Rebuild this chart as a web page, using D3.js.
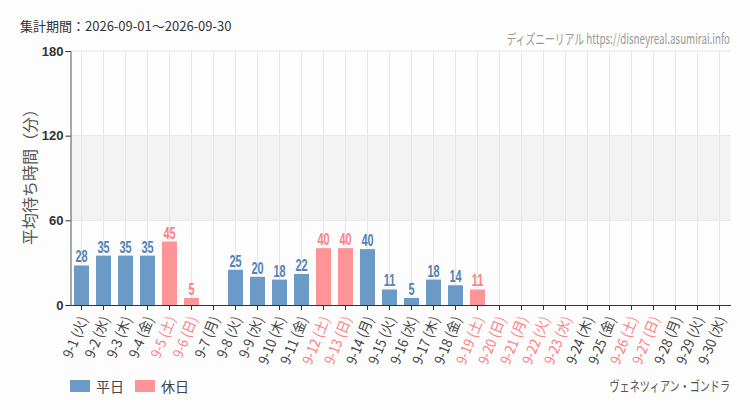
<!DOCTYPE html>
<html><head><meta charset="utf-8">
<script src="https://cdn.jsdelivr.net/npm/d3@7"></script>
<style>
html,body{margin:0;padding:0;background:#fcfdfc;}
svg{display:block;font-family:"Noto Sans CJK JP","Noto Sans",sans-serif;}
</style></head>
<body><svg id="c" width="750" height="410"></svg>
<script>
const dates = ["9-1","9-2","9-3","9-4","9-5","9-6","9-7","9-8","9-9","9-10","9-11","9-12","9-13","9-14","9-15","9-16","9-17","9-18","9-19","9-20","9-21","9-22","9-23","9-24","9-25","9-26","9-27","9-28","9-29","9-30"];
const weekdays = ["火","水","木","金","土","日","月","火","水","木","金","土","日","月","火","水","木","金","土","日","月","火","水","木","金","土","日","月","火","水"];
const holiday = [0,0,0,0,1,1,0,0,0,0,0,1,1,0,0,0,0,0,1,1,1,1,1,0,0,1,1,0,0,0];
const values = [28,35,35,35,45,5,null,25,20,18,22,40.3,40.3,39.6,11,5,18,14,11,null,null,null,null,null,null,null,null,null,null,null];
const yTicks = [0,60,120,180];
const legendLabels = ["平日","休日"];
const titleText = "集計期間：2026-09-01～2026-09-30";
const creditText = "ディズニーリアル https://disneyreal.asumirai.info";
const attractionName = "ヴェネツィアン・ゴンドラ";
const yLabel = "平均待ち時間（分）";

const blue = "#6b9ac7", red = "#ff9497", blueTxt = "#4f82b8", redTxt = "#ff7e82";
const svg = d3.select("#c");
const m = {l:70.5, r:730.5, t:51, b:305};
const x = d3.scaleBand().domain(dates).range([m.l, m.r]).paddingInner(0.32).paddingOuter(0.16);
const y = d3.scaleLinear().domain([0,180]).range([m.b, m.t]);

// band 60-120
svg.append("rect").attr("x", m.l).attr("width", m.r - m.l)
  .attr("y", y(120)).attr("height", y(60) - y(120)).attr("fill", "#f3f3f3");

// horizontal grid
svg.append("g").selectAll("line").data(yTicks.filter(d=>d>0)).join("line")
  .attr("x1", m.l).attr("x2", m.r).attr("y1", d=>y(d)).attr("y2", d=>y(d))
  .attr("stroke", "#e6e6e6");
// vertical grid
svg.append("g").selectAll("line").data(dates).join("line")
  .attr("x1", d=>x(d)+x.bandwidth()/2).attr("x2", d=>x(d)+x.bandwidth()/2)
  .attr("y1", m.t).attr("y2", m.b).attr("stroke", "#e6e6e6");

// bars
const idx = d3.range(dates.length);
svg.append("g").selectAll("rect").data(idx.filter(i=>values[i]!=null)).join("rect")
  .attr("x", i=>x(dates[i])).attr("width", x.bandwidth())
  .attr("y", i=>y(values[i])).attr("height", i=>y(0)-y(values[i]))
  .attr("fill", i=>holiday[i]?red:blue);
svg.append("g").selectAll("text").data(idx.filter(i=>values[i]!=null)).join("text")
  .attr("transform", i=>`translate(${x(dates[i])+x.bandwidth()/2},${y(values[i])-3}) scale(0.68,1)`)
  .attr("text-anchor","middle")
  .style("font-family","'Liberation Sans','DejaVu Sans',sans-serif")
  .style("font-size","16px").style("font-weight","bold")
  .attr("fill", i=>holiday[i]?redTxt:blueTxt)
  .text(i=>Math.round(values[i]));

// y axis
const ya = svg.append("g").attr("transform", `translate(${m.l},0)`)
  .call(d3.axisLeft(y).tickValues(yTicks).tickSize(5).tickPadding(2));
ya.select(".domain").attr("stroke","#555");
ya.selectAll(".tick line").attr("stroke","#333");
ya.selectAll("text").attr("fill","#333").style("font-size","13px").style("font-weight","bold")
  .style("font-family","'Liberation Sans','DejaVu Sans',sans-serif");

// x axis
const xa = svg.append("g").attr("transform", `translate(0,${m.b})`)
  .call(d3.axisBottom(x).tickSize(5).tickSizeOuter(0).tickFormat((d,i)=>`${d} (${weekdays[i]})`));
xa.select(".domain").attr("stroke","#333");
xa.selectAll(".tick line").attr("stroke","#333");
xa.selectAll("text")
  .attr("fill",(d,i)=>holiday[i]?redTxt:"#444")
  .style("font-size","14px")
  .style("font-family","'Noto Sans CJK JP',sans-serif")
  .attr("text-anchor","end").attr("dy","0.35em")
  .attr("transform","translate(2,12) rotate(-68) scale(0.92,1)").attr("x",0).attr("y",0);

// y label
svg.append("text").attr("transform","translate(36,173) rotate(-90)")
  .attr("text-anchor","middle").attr("fill","#555").style("font-size","16px").text(yLabel);

// title
svg.append("text").attr("x",20).attr("y",31).attr("fill","#333").style("font-size","13px").text(titleText);
svg.append("text").attr("transform","translate(730,44) scale(0.7,1)").attr("text-anchor","end").attr("fill","#999")
  .style("font-size","14px").text(creditText);

// legend
const lg = svg.append("g");
[blue, red].forEach((c,i)=>{
  const lx = 70 + i*65;
  lg.append("rect").attr("x",lx).attr("y",380).attr("width",20).attr("height",12).attr("fill",c);
  lg.append("text").attr("x",lx+26).attr("y",391.5).attr("fill","#444").style("font-size","14px").text(legendLabels[i]);
});
svg.append("text").attr("transform","translate(730,391) scale(0.72,1)").attr("text-anchor","end").attr("fill","#555")
  .style("font-size","14px").text(attractionName);
</script></body></html>
